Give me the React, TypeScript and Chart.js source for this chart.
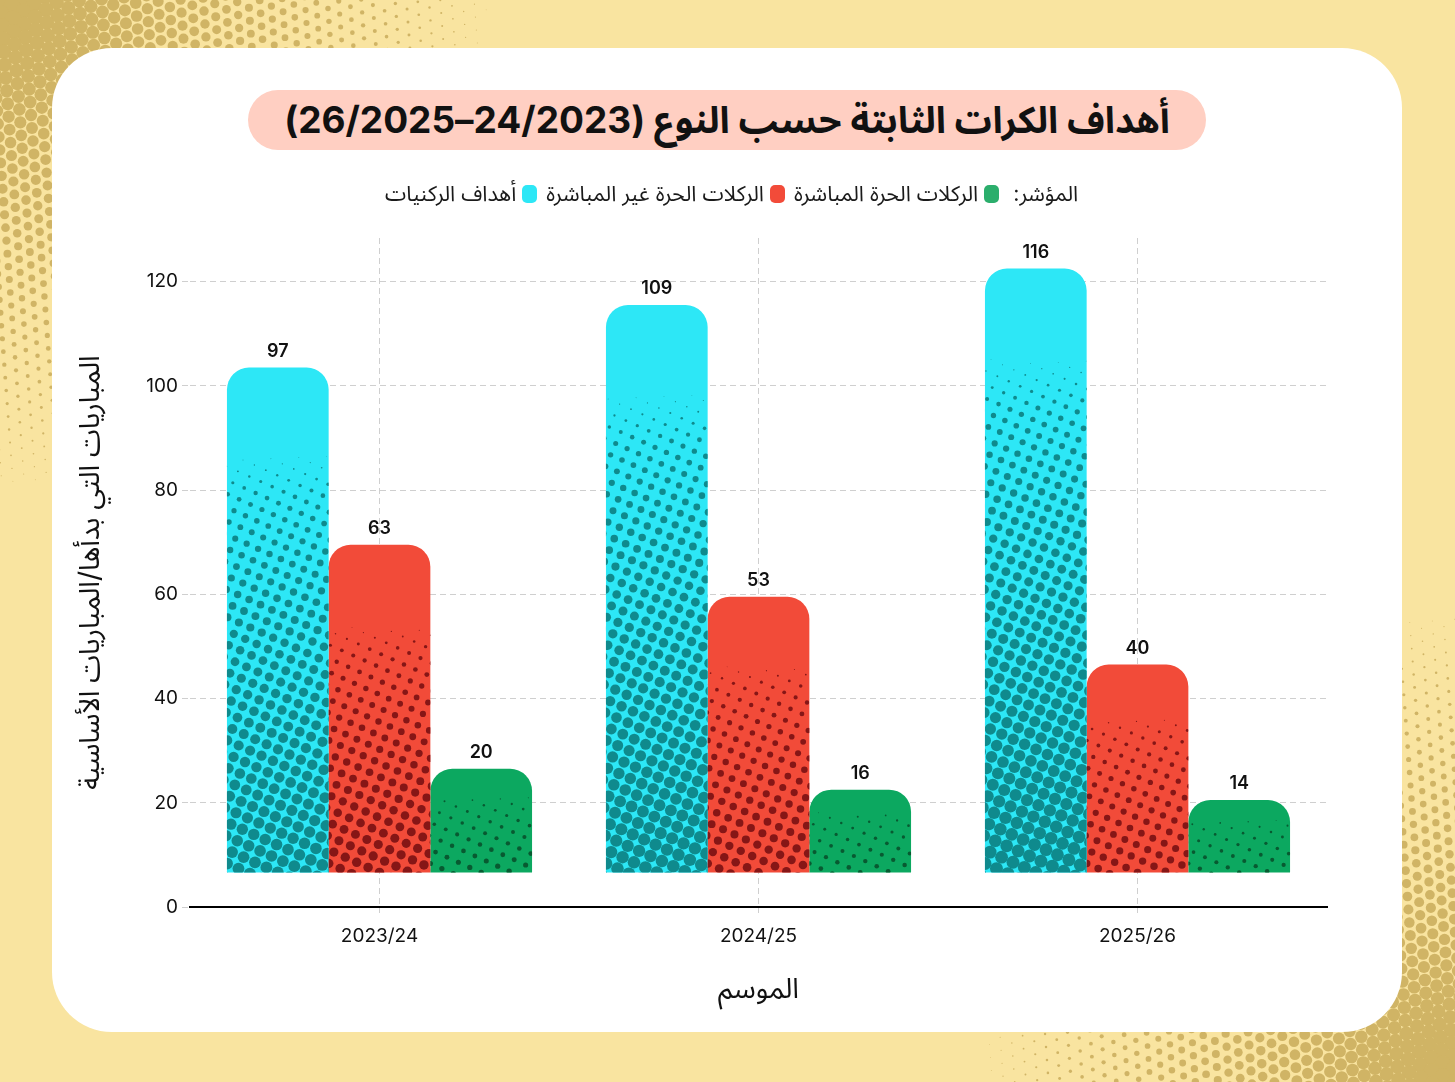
import React, { useEffect, useRef } from "react";
import { Chart, registerables } from "chart.js";

Chart.register(...registerables);

// ---------- data ----------
const seasons = ["2023/24", "2024/25", "2025/26"];
const cornerGoals = [97, 109, 116];
const indirectFreeKicks = [63, 53, 40];
const directFreeKicks = [20, 16, 14];
const seriesNames = ["أهداف الركنيات", "الركلات الحرة غير المباشرة", "الركلات الحرة المباشرة"];
const yStep = 20;
const yMax = 128.4;

const titleText = "أهداف الكرات الثابتة حسب النوع (2023\u200F/24–2025\u200F/26)";
const legendPrefix = "المؤشر:";
const yTitle = "المباريات التي بدأها/المباريات الأساسية";
const xTitle = "الموسم";

// ---------- style ----------
const W = 1455;
const H = 1082;
const FONT = "Inter, 'Noto Sans Arabic', 'Noto Sans', 'DejaVu Sans', sans-serif";
const barColors = ["#2DE7F6", "#F24B39", "#0CA860"];
const dotColors = ["#0F8A8D", "#861616", "#085A31"];
const legendColors = ["#2DE7F6", "#F24B39", "#2BAE6C"];
const LIFT = 34;

function drawCorner(g: CanvasRenderingContext2D, cx: number, cy: number, R: number, rmax: number) {
  const s = 13;
  const ang = 0.45;
  const cos = Math.cos(ang);
  const sin = Math.sin(ang);
  const n = Math.ceil(R / s) + 3;
  for (let j = -n * 2; j <= n * 2; j++) {
    for (let i = -n * 2; i <= n * 2; i++) {
      const u = i * s + (Math.abs(j) % 2 ? s / 2 : 0);
      const v = j * s * 0.866;
      const x = cx + u * cos - v * sin;
      const y = cy + u * sin + v * cos;
      const d = Math.hypot(x - cx, y - cy);
      if (d >= R) continue;
      const r = rmax * Math.pow(1 - d / R, 1.1);
      if (r < 0.4) continue;
      g.beginPath();
      g.arc(x, y, r, 0, Math.PI * 2);
      g.fill();
    }
  }
}

const liftPlugin = {
  id: "liftHalftone",
  beforeDatasetsDraw(chart: any) {
    chart.ctx.save();
    chart.ctx.translate(0, -LIFT);
  },
  afterDatasetsDraw(chart: any) {
    const ctx = chart.ctx as CanvasRenderingContext2D;
    chart.data.datasets.forEach((ds: any, di: number) => {
      const meta = chart.getDatasetMeta(di);
      meta.data.forEach((bar: any, i: number) => {
        const p = bar.getProps(["x", "y", "base", "width"], true);
        const left = p.x - p.width / 2;
        const top = p.y;
        const h = p.base - p.y;
        const w = p.width;
        // halftone dots
        ctx.save();
        ctx.beginPath();
        (ctx as any).roundRect(left, top, w, h, [22, 22, 0, 0]);
        ctx.clip();
        ctx.fillStyle = dotColors[di];
        const s = 12.5;
        const ang = 0.42;
        const cos = Math.cos(ang);
        const sin = Math.sin(ang);
        const cx = p.x;
        const cy = p.base;
        const Rr = Math.hypot(w, h) + s * 2;
        const n = Math.ceil(Rr / s);
        const d0 = Math.min(74, h * 0.22);
        const rmax = 6.5 * Math.sqrt(h / 604);
        for (let j = -n; j <= n; j++) {
          for (let k = -n; k <= n; k++) {
            const u = k * s;
            const v = j * s;
            const x = cx + u * cos - v * sin;
            const y = cy + u * sin + v * cos;
            if (x < left - 7 || x > left + w + 7 || y < top || y > p.base + 7) continue;
            const d = y - top;
            const t = (d - d0) / (h - d0);
            if (t <= 0) continue;
            const r = rmax * Math.pow(Math.min(t, 1.05), 0.45) * Math.min(1, t * 8);
            if (r < 0.35) continue;
            ctx.beginPath();
            ctx.arc(x, y, r, 0, Math.PI * 2);
            ctx.fill();
          }
        }
        ctx.restore();
        // value label
        ctx.save();
        ctx.fillStyle = "#111";
        ctx.font = "600 18px " + FONT;
        ctx.textAlign = "center";
        ctx.textBaseline = "bottom";
        ctx.fillText(String(ds.data[i]), p.x, top - 7);
        ctx.restore();
      });
    });
    ctx.restore();
  },
};

export default function App() {
  const bgRef = useRef<HTMLCanvasElement>(null);
  const chartRef = useRef<HTMLCanvasElement>(null);

  useEffect(() => {
    const bg = bgRef.current!;
    const g = bg.getContext("2d")!;
    g.fillStyle = "#F9E4A0";
    g.fillRect(0, 0, W, H);
    g.fillStyle = "#D0B465";
    drawCorner(g, 0, 0, 520, 8.2);
    drawCorner(g, W, H, 500, 8.2);

    Chart.defaults.font.family = FONT;
    Chart.defaults.color = "#111";

    const chart = new Chart(chartRef.current!, {
      type: "bar",
      data: {
        labels: seasons,
        datasets: [
          { label: seriesNames[0], data: cornerGoals, backgroundColor: barColors[0] },
          { label: seriesNames[1], data: indirectFreeKicks, backgroundColor: barColors[1] },
          { label: seriesNames[2], data: directFreeKicks, backgroundColor: barColors[2] },
        ].map((d) => ({
          ...d,
          borderWidth: 0,
          borderRadius: 22,
          borderSkipped: "start",
          categoryPercentage: 0.805,
          barPercentage: 1.0,
        })) as any,
      },
      options: {
        animation: false,
        responsive: false,
        events: [],
        layout: { padding: { left: 20, right: 75, top: 23, bottom: 0 } },
        plugins: {
          legend: { display: false },
          tooltip: { enabled: false },
        },
        scales: {
          x: {
            afterFit: (scale: any) => {
              scale.height = 118;
            },
            grid: {
              display: true,
              offset: false,
              color: "#CFCFCF",
              lineWidth: 1,
              drawTicks: true,
              tickLength: 6,
              tickBorderDash: [6, 4],
            },
            border: { display: true, color: "#000", width: 2, dash: [6, 4] },
            ticks: { font: { size: 19 }, color: "#111", padding: 12 },
            title: {
              display: true,
              text: xTitle,
              font: { size: 28 },
              color: "#111",
              padding: { top: 0, bottom: 19 },
            },
          },
          y: {
            min: 0,
            max: yMax,
            afterFit: (scale: any) => {
              scale.width = 118;
            },
            grid: {
              color: "#CFCFCF",
              lineWidth: 1,
              drawTicks: true,
              tickLength: 8,
              tickBorderDash: [6, 4],
            },
            border: { display: false, dash: [6, 4] },
            ticks: {
              stepSize: yStep,
              includeBounds: false,
              font: { size: 19 },
              color: "#111",
              padding: 4,
            },
            title: {
              display: true,
              text: yTitle,
              font: { size: 28 },
              color: "#111",
              padding: { top: 2, bottom: 0 },
            },
          },
        },
      },
      plugins: [liftPlugin],
    });
    return () => chart.destroy();
  }, []);

  const legendItems = [
    { c: legendColors[2], t: seriesNames[2] },
    { c: legendColors[1], t: seriesNames[1] },
    { c: legendColors[0], t: seriesNames[0] },
  ];

  return (
    <div style={{ position: "absolute", left: 0, top: 0, width: W, height: H, overflow: "hidden", fontFamily: FONT }}>
      <canvas ref={bgRef} width={W} height={H} style={{ position: "absolute", left: 0, top: 0 }} />
      <div
        style={{
          position: "absolute",
          left: 52,
          top: 48,
          width: 1350,
          height: 984,
          background: "#FFFFFF",
          borderRadius: 60,
        }}
      />
      <div
        dir="rtl"
        style={{
          position: "absolute",
          left: 248,
          top: 90,
          width: 958,
          height: 60,
          background: "#FFCFC2",
          borderRadius: 30,
          textAlign: "center",
          lineHeight: "60px",
          fontSize: 37,
          fontWeight: 700,
          color: "#111",
          whiteSpace: "nowrap",
        }}
      >
        {titleText}
      </div>
      <div
        dir="rtl"
        style={{
          position: "absolute",
          left: 52,
          top: 179,
          width: 1350,
          height: 30,
          display: "flex",
          justifyContent: "center",
          alignItems: "center",
          fontSize: 21.5,
          color: "#1a1a1a",
          whiteSpace: "nowrap",
        }}
      >
        <span style={{ marginLeft: 14 }}>{legendPrefix}</span>
        {legendItems.map((it, k) => (
          <span key={k} style={{ display: "flex", alignItems: "center", marginLeft: 9 }}>
            <span
              style={{
                display: "inline-block",
                width: 15,
                height: 18,
                borderRadius: 5,
                background: it.c,
                marginLeft: 6,
              }}
            />
            <span>{it.t}</span>
          </span>
        ))}
      </div>
      <div style={{ position: "absolute", left: 52, top: 215, width: 1350, height: 810 }}>
        <canvas ref={chartRef} width={1350} height={810} style={{ width: 1350, height: 810 }} />
      </div>
    </div>
  );
}
